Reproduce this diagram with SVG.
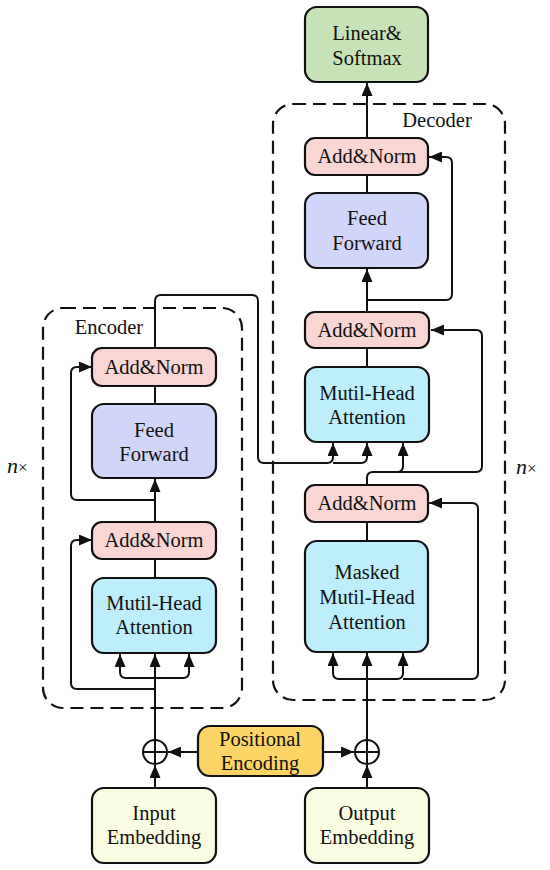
<svg xmlns="http://www.w3.org/2000/svg" width="550" height="870" viewBox="0 0 550 870">
<style>
.t{font-family:"Liberation Serif","Times New Roman",serif;font-size:20.5px;fill:#111;text-anchor:middle}
.n{font-family:"Liberation Serif","Times New Roman",serif;font-size:22px;fill:#111}
.b{stroke:#111;stroke-width:2.2}
.an{fill:#f9d6d3}
.ff{fill:#d2d5fa}
.at{fill:#bdeefb}
.ln{fill:#c8e2b8}
.pe{fill:#fdd567}
.em{fill:#fbfde3}
.c{fill:none;stroke:#111;stroke-width:2}
.d{fill:none;stroke:#111;stroke-width:2.2;stroke-dasharray:13 7}
</style>
<defs>
<marker id="ah" viewBox="0 0 13 11" refX="13" refY="5.5" markerWidth="13" markerHeight="11" markerUnits="userSpaceOnUse" orient="auto">
<path d="M0,0 L13,5.5 L0,11 Z" fill="#111"/>
</marker>
</defs>
<rect width="550" height="870" fill="#fff"/>

<g id="encoder">
<rect class="d" x="43" y="308" width="199" height="400" rx="20"/>
<text class="t" x="109" y="334">Encoder</text>
</g>
<g id="decoder">
<rect class="d" x="273" y="104" width="232" height="596" rx="20"/>
<text class="t" x="437" y="127">Decoder</text>
</g>
<text class="n" x="7" y="473"><tspan font-style="italic">n</tspan><tspan font-size="17">×</tspan></text>
<text class="n" x="516" y="474"><tspan font-style="italic">n</tspan><tspan font-size="17">×</tspan></text>

<g id="connectors">
<path class="c" d="M367,138 V83" marker-end="url(#ah)"/>
<path class="c" d="M367,193 V175"/>
<path class="c" d="M367,312 V269" marker-end="url(#ah)"/>
<path class="c" d="M367,300 H446 Q452,300 452,294 V163 Q452,157 446,157 H429" marker-end="url(#ah)"/>
<path class="c" d="M367,367 V348"/>
<path class="c" d="M367,485 V478 Q367,472 373,472 H476 Q482,472 482,466 V336 Q482,330 476,330 H431" marker-end="url(#ah)"/>
<path class="c" d="M397,472 Q403,472 403,466 V443" marker-end="url(#ah)"/>
<path class="c" d="M155,348 V301 Q155,295 161,295 H252 Q258,295 258,301 V457 Q258,463 264,463 H327 Q333,463 333,457 V443" marker-end="url(#ah)"/>
<path class="c" d="M333,463 H361 Q367,463 367,457 V443" marker-end="url(#ah)"/>
<path class="c" d="M367,541 V522"/>
<path class="c" d="M367,740 V653" marker-end="url(#ah)"/>
<path class="c" d="M367,679 H339 Q333,679 333,673 V653" marker-end="url(#ah)"/>
<path class="c" d="M367,679 H397 Q403,679 403,673 V653" marker-end="url(#ah)"/>
<path class="c" d="M403,679 H472 Q478,679 478,673 V509 Q478,503 472,503 H429" marker-end="url(#ah)"/>
<path class="c" d="M155,404 V386"/>
<path class="c" d="M155,522 V479" marker-end="url(#ah)"/>
<path class="c" d="M155,500 H77 Q71,500 71,494 V373 Q71,367 77,367 H92" marker-end="url(#ah)"/>
<path class="c" d="M155,578 V559"/>
<path class="c" d="M155,740 V654" marker-end="url(#ah)"/>
<path class="c" d="M155,678 H126 Q120,678 120,672 V654" marker-end="url(#ah)"/>
<path class="c" d="M155,678 H183 Q189,678 189,672 V654" marker-end="url(#ah)"/>
<path class="c" d="M155,689 H77 Q71,689 71,683 V546 Q71,540 77,540 H92" marker-end="url(#ah)"/>
<path class="c" d="M155,788 V765" marker-end="url(#ah)"/>
<path class="c" d="M367,788 V765" marker-end="url(#ah)"/>
<path class="c" d="M198,752 H168" marker-end="url(#ah)"/>
<path class="c" d="M323,752 H354" marker-end="url(#ah)"/>
</g>

<g id="linear-softmax">
<rect class="b ln" x="305" y="7" width="123" height="75" rx="12"/>
<text class="t" x="367" y="40">Linear&amp;</text>
<text class="t" x="367" y="65">Softmax</text>
</g>
<g id="dec-addnorm3">
<rect class="b an" x="305" y="138" width="123" height="37" rx="10"/>
<text class="t" x="367" y="163">Add&amp;Norm</text>
</g>
<g id="dec-feedforward">
<rect class="b ff" x="305" y="193" width="123" height="75" rx="12"/>
<text class="t" x="367" y="225">Feed</text>
<text class="t" x="367" y="250">Forward</text>
</g>
<g id="dec-addnorm2">
<rect class="b an" x="305" y="312" width="124" height="36" rx="10"/>
<text class="t" x="367" y="337">Add&amp;Norm</text>
</g>
<g id="dec-attention">
<rect class="b at" x="305" y="367" width="124" height="75" rx="12"/>
<text class="t" x="367" y="400">Mutil-Head</text>
<text class="t" x="367" y="424">Attention</text>
</g>
<g id="dec-addnorm1">
<rect class="b an" x="305" y="485" width="123" height="37" rx="10"/>
<text class="t" x="367" y="510">Add&amp;Norm</text>
</g>
<g id="dec-masked-attention">
<rect class="b at" x="305" y="541" width="123" height="111" rx="12"/>
<text class="t" x="367" y="579">Masked</text>
<text class="t" x="367" y="604">Mutil-Head</text>
<text class="t" x="367" y="629">Attention</text>
</g>
<g id="enc-addnorm2">
<rect class="b an" x="92" y="348" width="124" height="38" rx="10"/>
<text class="t" x="154" y="374">Add&amp;Norm</text>
</g>
<g id="enc-feedforward">
<rect class="b ff" x="92" y="404" width="124" height="74" rx="12"/>
<text class="t" x="154" y="437">Feed</text>
<text class="t" x="154" y="461">Forward</text>
</g>
<g id="enc-addnorm1">
<rect class="b an" x="92" y="522" width="124" height="37" rx="10"/>
<text class="t" x="154" y="547">Add&amp;Norm</text>
</g>
<g id="enc-attention">
<rect class="b at" x="92" y="578" width="124" height="75" rx="12"/>
<text class="t" x="154" y="610">Mutil-Head</text>
<text class="t" x="154" y="634">Attention</text>
</g>
<g id="plus-left">
<circle cx="155" cy="752" r="12" fill="#fff" stroke="#111" stroke-width="2"/>
<path class="c" d="M143,752 H167 M155,740 V764"/>
</g>
<g id="plus-right">
<circle cx="367" cy="752" r="12" fill="#fff" stroke="#111" stroke-width="2"/>
<path class="c" d="M355,752 H379 M367,740 V764"/>
</g>
<g id="positional-encoding">
<rect class="b pe" x="198" y="726" width="125" height="50" rx="12"/>
<text class="t" x="260" y="746">Positional</text>
<text class="t" x="260" y="770">Encoding</text>
</g>
<g id="input-embedding">
<rect class="b em" x="92" y="788" width="124" height="75" rx="12"/>
<text class="t" x="154" y="820">Input</text>
<text class="t" x="154" y="844">Embedding</text>
</g>
<g id="output-embedding">
<rect class="b em" x="305" y="788" width="124" height="75" rx="12"/>
<text class="t" x="367" y="820">Output</text>
<text class="t" x="367" y="844">Embedding</text>
</g>
</svg>
